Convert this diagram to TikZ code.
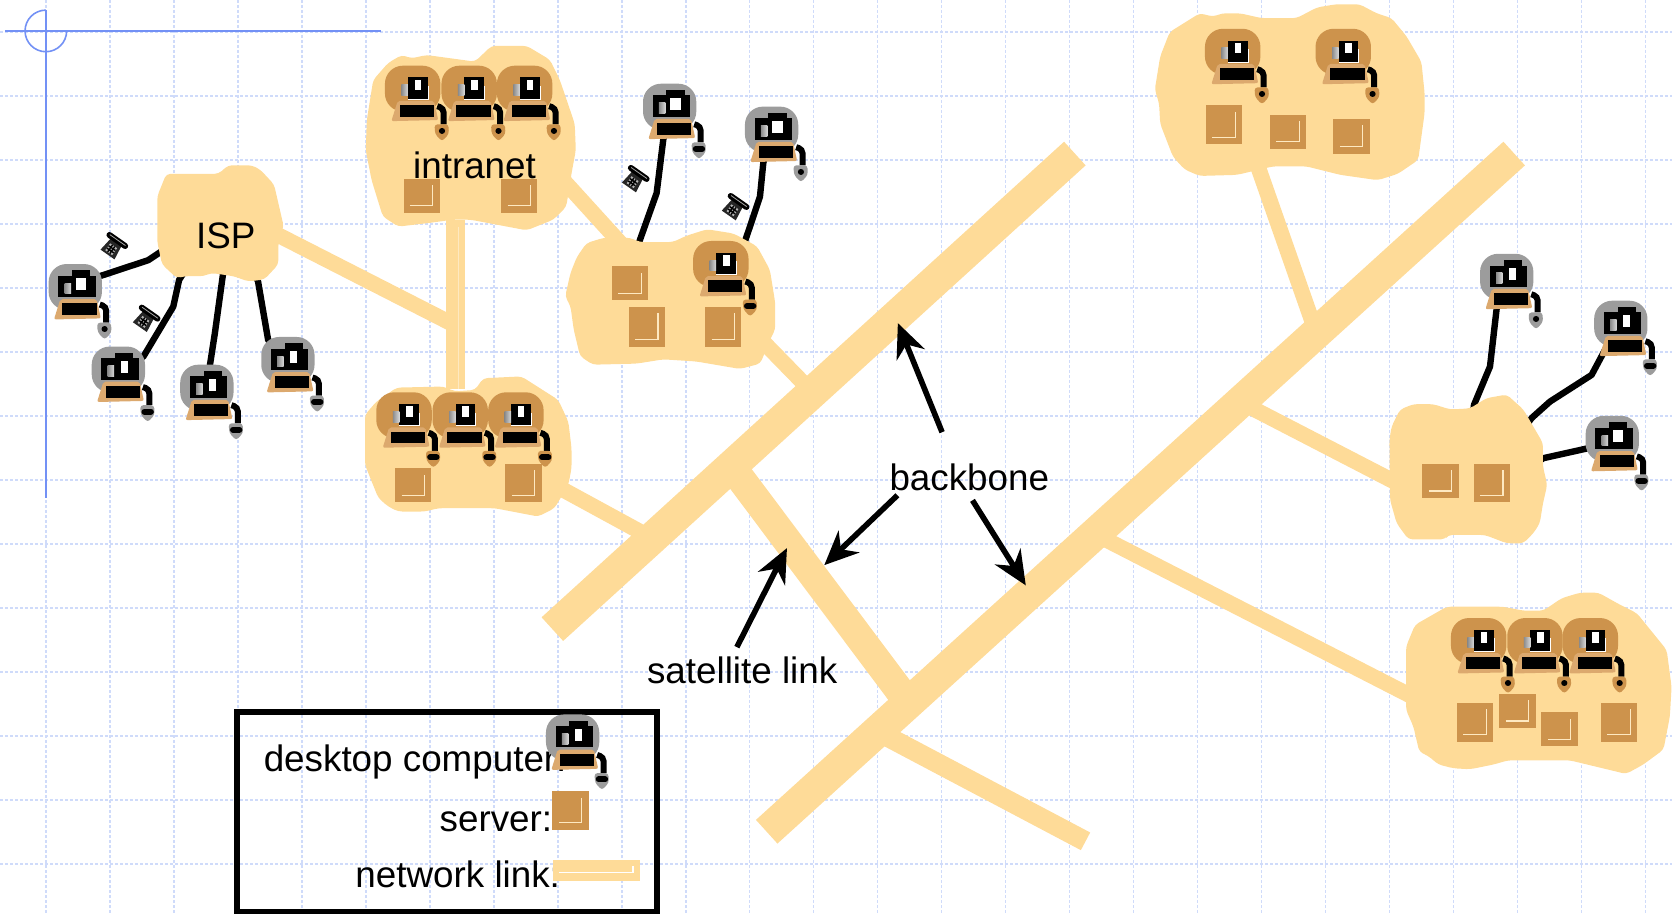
\documentclass[tikz,border=0pt]{standalone}
\usepackage{fontspec}
\setmainfont{Liberation Sans}
\usepackage{tikz}
\usetikzlibrary{arrows.meta}

\definecolor{linkfill}{RGB}{254,219,152}
\definecolor{hostbrown}{RGB}{205,147,76}
\definecolor{keytan}{RGB}{220,169,110}
\definecolor{hostgrey}{RGB}{156,156,156}
\definecolor{griddot}{RGB}{207,219,250}
\definecolor{guideblue}{RGB}{115,145,245}

\tikzset{
    gridline/.style={griddot, line width=0.85pt, dash pattern=on 1.3pt off 1.2pt},
    guide/.style={guideblue, line width=0.8pt},
    blob/.style={fill=linkfill, rounded corners=2pt},
    trunk/.style={linkfill, line width=16pt},
    link/.style={linkfill, line width=7.8pt},
    cable/.style={black, line width=3.2pt, line join=round},
    pointer/.style={black, line width=2.8pt, -{Stealth[length=17pt, width=15pt]}},
    tag/.style={font=\fontsize{18.4}{22}\selectfont, inner sep=2pt, anchor=base},
    pics/kit/.style args={#1/#2}{code={
        \fill[keytan, rounded corners=1pt] (-14,14) -- (20,14) -- (24,32) -- (-20,33) -- cycle;
        \fill[black] (-12,18) rectangle (20,29);
        \draw[black, line width=3pt, rounded corners=2pt] (23,19) -- (29,21) -- (29,36);
        \fill[#1, rounded corners=1.5pt] (20.5,36) -- (33.5,36) -- (34,45) -- (27.5,52) -- (21,45) -- cycle;
        \draw[black, line width=3pt, line cap=round] (27.5-#2,42) -- (27.5+#2,42);
    }},
    pics/desktop/.style args={#1/#2}{code={
        \fill[hostgrey, rounded corners=9pt] (-25,-19) rectangle (25,24);
        \pic {kit=hostgrey/#2};
        \fill[black] (-16,-8) rectangle (19,12);
        \fill[black] (-3,-13) rectangle (14,-8);
        \fill[white] (5.5-#1,-5.5) rectangle (5.5+#1,5.5);
        \shade[left color=gray!90, right color=gray!30] (-10,-1) rectangle (-4,9);
    }},
    pics/sitepc/.style args={#1/#2}{code={
        \fill[hostbrown, rounded corners=9pt] (-26,-19) rectangle (26,24);
        \pic {kit=hostbrown/#2};
        \fill[white] (-4.4,0) rectangle (15,13);
        \fill[black] (-4.4,-8) rectangle (14,12);
        \fill[white] (5-#1,-6) rectangle (5+#1,4);
        \shade[left color=gray!90, right color=gray!30] (-10.5,-1) rectangle (-4.4,9);
    }},
    pics/server/.style={code={
        \fill[hostbrown] (-17,-#1/2) rectangle (17,#1/2);
        \draw[linkfill!60!white, line width=0.6pt] (-11,#1/2-6.5) -- (10.5,#1/2-6.5) -- (10.5,-#1/2+6);
    }},
    pics/phone/.style={code={
        \begin{scope}[rotate=-35]
            \fill[black!85] (-6,-6) -- (6,-6) -- (8,9) -- (-8,9) -- cycle;
            \fill[gray!60] (-4,-1) rectangle (4,7);
            \draw[black, line width=0.7pt] (-4,1.7) -- (4,1.7) (-4,4.4) -- (4,4.4) (-1.3,-1) -- (-1.3,7) (1.3,-1) -- (1.3,7);
            \draw[black, line width=3pt, line cap=round] (-9,-7) -- (9,-7);
            \draw[gray!70, line width=0.4pt] (-9,-7.5) -- (9,-7.5);
        \end{scope}
    }},
}

\begin{document}
\begin{tikzpicture}[x=0.53316pt, y=-0.53316pt]
\useasboundingbox (0, 0) rectangle (1568, 857.1);

% dotted slide grid and guides
\foreach \gx in {43, 103, ..., 1543} {
    \draw[gridline] (\gx, 0) -- (\gx, 857);
}
\foreach \gy in {30, 90, ..., 810} {
    \draw[gridline] (0, \gy) -- (1568, \gy);
}
\draw[guide] (5, 29) -- (357, 29);
\draw[guide] (43, 9.5) -- (43, 467);
\draw[guide] (43, 9.5) arc[start angle=-90, end angle=-360, radius=19.5];

\coordinate (isphub) at (211, 195);
\coordinate (ispjoin) at (427.4, 305.4);
\coordinate (intranethub) at (500, 138);
\coordinate (intranetfoot) at (427.4, 206);
\coordinate (lowerhead) at (427.4, 365);
\coordinate (lowerhub) at (500, 444);
\coordinate (sitehub) at (600, 248);
\coordinate (sitesouth) at (680, 284);
\coordinate (tophub) at (1160, 100);
\coordinate (midhub) at (1370, 484);
\coordinate (bottomhub) at (1400, 692);
\coordinate (trunkAtop) at (1008, 144);
\coordinate (trunkAend) at (518, 590);
\coordinate (trunkBtop) at (1420, 144);
\coordinate (trunkBend) at (719, 780);
\coordinate (trunkAsat) at (682, 432);
\coordinate (trunkBsat) at (852, 659);
\coordinate (trunkAsite) at (762, 368);
\coordinate (trunkAlow) at (612, 505);
\coordinate (trunkBtopsite) at (1235, 314);
\coordinate (trunkBmid) at (1165, 378);
\coordinate (trunkBbottom) at (1035, 505);
\coordinate (trunkBspur) at (825, 687);
\coordinate (spurend) at (1018, 789);

\coordinate (pcA) at (70.6, 266.6);
\coordinate (pcB) at (111, 344);
\coordinate (pcC) at (194, 361);
\coordinate (pcD) at (270, 335);
\coordinate (pcE) at (628, 97.5);
\coordinate (pcF) at (723.6, 119);
\coordinate (pcG) at (1413, 257);
\coordinate (pcH) at (1520, 301);
\coordinate (pcI) at (1512, 409);

% network links
\draw[trunk] (trunkAtop) -- (trunkAend);
\draw[trunk] (trunkBtop) -- (trunkBend);
\draw[linkfill, line width=14.5pt] (trunkAsat) -- (trunkBsat);
\draw[linkfill, line width=10pt] (trunkBspur) -- (spurend);
\draw[link] (isphub) -- (ispjoin);
\draw[link] (intranethub) -- (sitehub);
\draw[link] (sitesouth) -- (trunkAsite);
\draw[link] (lowerhub) -- (trunkAlow);
\draw[link] (tophub) -- (trunkBtopsite);
\draw[link] (midhub) -- (trunkBmid);
\draw[link] (bottomhub) -- (trunkBbottom);
\draw[linkfill, line width=9.6pt] (intranetfoot) -- (lowerhead);
\draw[linkfill!60!white, line width=0.6pt] (429.9, 212.5) -- (429.9, 365);

% dial-up cables
\draw[cable] (isphub) -- (148, 238) -- (139, 244) -- (pcA);
\draw[cable] (isphub) -- (168, 262.5) -- (162.5, 287.5) -- (134.5, 334.4) -- (pcB);
\draw[cable] (isphub) -- (209, 258) -- (201.5, 312.5) -- (pcC);
\draw[cable] (isphub) -- (242, 264) -- (251.5, 319) -- (pcD);
\draw[cable] (sitehub) -- (599.6, 226.5) -- (615.8, 181) -- (622, 131) -- (pcE);
\draw[cable] (sitesouth) -- (698.6, 226.5) -- (712.7, 184.3) -- (715.8, 153) -- (pcF);
\draw[cable] (midhub) -- (1382.3, 379.7) -- (1397.3, 343.8) -- (1403.6, 289) -- (pcG);
\draw[cable] (midhub) -- (1436.4, 392) -- (1453.6, 376.6) -- (1492.6, 351.6) -- (1503.6, 331) -- (pcH);
\draw[cable] (midhub) -- (1447.3, 429.7) -- (1489.5, 420.3) -- (pcI);

% sites
\fill[blob] plot coordinates {(156,163) (205,163) (214,155) (236,155) (244,159) (257,173) (266,212) (261,228) (261,248) (248,262) (233,264) (219,259) (198,256) (191,259) (173,259) (166,261) (152,248) (147.5,227) (147.5,184)} -- cycle;
\fill[blob] plot coordinates {(376.7,51.6) (386,54.7) (400,51.6) (445.4,57.8) (461,43) (494,43) (515.7,56) (525,75) (539,116) (540,141) (536,162.5) (531,194) (519,206) (494,216) (441,206) (425,206) (403,209) (373.5,212.5) (359,203) (348.5,169) (343,141) (344,112.5) (350,75) (364,59)} -- cycle;
\fill[blob] plot coordinates {(342.3,389) (353,376.6) (372,363.5) (415.7,362.5) (426.6,367) (445.4,365.7) (453.2,354.7) (489,353) (523.5,375) (533,395.4) (536,420.4) (536,439) (533,454.7) (520,476.6) (504.8,484.4) (464,476.6) (411,476.6) (398.5,479.7) (373.5,479.7) (364,475) (354.8,467) (342.3,436)} -- cycle;
\fill[blob] plot coordinates {(550,228) (566,223) (591,223) (600,227) (631,227) (644,221) (663,215) (688,219) (710,231) (722,253) (727,284) (727,309) (722,319) (713,341) (694,346) (653,339) (622,337) (597,341) (556,342) (544,334) (538,309) (535,287) (530,278) (535,256) (541,241)} -- cycle;
\fill[blob] plot coordinates {(1083,84) (1088,53) (1097,30) (1125,12.5) (1138,15.6) (1146,12.5) (1163,12.5) (1183,17) (1216,17) (1235,7) (1253,4) (1275,4) (1291,12.5) (1305,17) (1319,34) (1333,58) (1336,87.5) (1336,106) (1330,150) (1311,163) (1292,169) (1257,164) (1225,156) (1194,156) (1160,164) (1125,165) (1111,159) (1100,147) (1088,116) (1087,97)} -- cycle;
\fill[blob] plot coordinates {(1313,384) (1325.5,379) (1344,379) (1360,384) (1378.6,383) (1394,373.4) (1413,370) (1428.6,384) (1447,415.6) (1447,437.5) (1451,454.7) (1447,472) (1444,490.8) (1438,500) (1428.6,509.5) (1413,509.5) (1392.6,501.7) (1358,501.7) (1355,505.8) (1320.8,505.8) (1309.8,490.8) (1303.6,468.9) (1303,412.5) (1305,400)} -- cycle;
\fill[blob] plot coordinates {(1318.6,606.4) (1327,586) (1356.7,569) (1409.8,569) (1428.6,572.7) (1447.3,572.7) (1464.5,561) (1481.7,555.8) (1499,555.8) (1519,567) (1535,575) (1563,609.5) (1567.6,644) (1566,672) (1560,703) (1541,717) (1525,725.8) (1472,713) (1414.5,713) (1400.5,717) (1378.6,721.4) (1363,720.5) (1349,717) (1339.5,709) (1331,705) (1325.5,681.4) (1318.6,665.8)} -- cycle;

% servers
\pic at (395.4, 183.5) {server=32};
\pic at (487, 183.5) {server=32};
\pic at (387.6, 455) {server=32};
\pic at (491, 453) {server=36};
\pic at (591, 265.6) {server=32};
\pic at (606.5, 306.5) {server=37};
\pic at (678.3, 306.5) {server=37};
\pic at (1148, 117) {server=36.5};
\pic at (1208, 123.4) {server=32};
\pic at (1267.5, 127.8) {server=32.5};
\pic at (1351, 451) {server=32};
\pic at (1399, 453) {server=36};
\pic at (1383.3, 677.4) {server=36.5};
\pic at (1423, 666.7) {server=32};
\pic at (1462.6, 684) {server=32};
\pic at (1518.3, 677.4) {server=36.5};

% computers inside the sites
\foreach \px in {387, 440, 492} {
    \pic at (\px, 80.6) {sitepc=3.2/0.1};
}
\foreach \px in {378.9, 431.6, 483.8} {
    \pic at (\px, 386.9) {sitepc=3/3};
}
\pic at (676, 245) {sitepc=3.2/3};
\foreach \px in {1156, 1259.7} {
    \pic at (\px, 46) {sitepc=3.2/0.1};
}
\foreach \px in {1386.7, 1439.5, 1491.4} {
    \pic at (\px, 598.6) {sitepc=3.2/0.1};
}

% computers on dial-up
\pic at (pcA) {desktop=5/0.1};
\pic at (pcB) {desktop=3.2/3};
\pic at (pcC) {desktop=3.2/3};
\pic at (pcD) {desktop=3.2/3};
\pic at (pcE) {desktop=5/3};
\pic at (pcF) {desktop=5/0.1};
\pic at (pcG) {desktop=3.2/0.1};
\pic at (pcH) {desktop=3.2/3};
\pic at (pcI) {desktop=5/3};

\foreach \phx/\phy in {106/231.3, 136.3/299.4, 595/168.4, 688.6/194.7} {
    \pic at (\phx, \phy) {phone};
}

% labels
\node[tag] (isplabel) at (211.7, 233) {ISP};
\node[tag] (intranetlabel) at (445, 167) {intranet};
\node[tag] (backbone) at (909, 460) {backbone};
\node[tag] (satlabel) at (696, 641) {satellite link};

\coordinate (bbtipA) at (842, 303);
\coordinate (bbtipB) at (773, 530);
\coordinate (bbtipC) at (962, 549);
\coordinate (sattip) at (738, 514);
\draw[pointer, shorten <=14.7pt] (backbone.132) -- (bbtipA);
\draw[pointer] (backbone.194) -- (bbtipB);
\draw[pointer, shorten <=3pt] (backbone.south) -- (bbtipC);
\draw[pointer, shorten <=3pt] (satlabel.114) -- (sattip);

% legend
\draw[black, line width=3pt] (222.5, 667.5) rectangle (616, 855.5);
\node[tag, anchor=base west, inner sep=0pt] (legendpc) at (247, 723.5) {desktop computer:};
\node[tag, anchor=base west, inner sep=0pt] (legendserver) at (412, 780) {server:};
\node[tag, anchor=base west, inner sep=0pt] (legendlink) at (333, 832) {network link:};
\pic at (537, 689) {desktop=3.2/3};
\pic at (535, 760) {server=36};
\fill[linkfill] (518.6, 806.5) rectangle (600, 826);
\draw[white, line width=0.6pt] (524, 818.6) -- (593.6, 818.6) -- (593.6, 812);
\end{tikzpicture}
\end{document}
